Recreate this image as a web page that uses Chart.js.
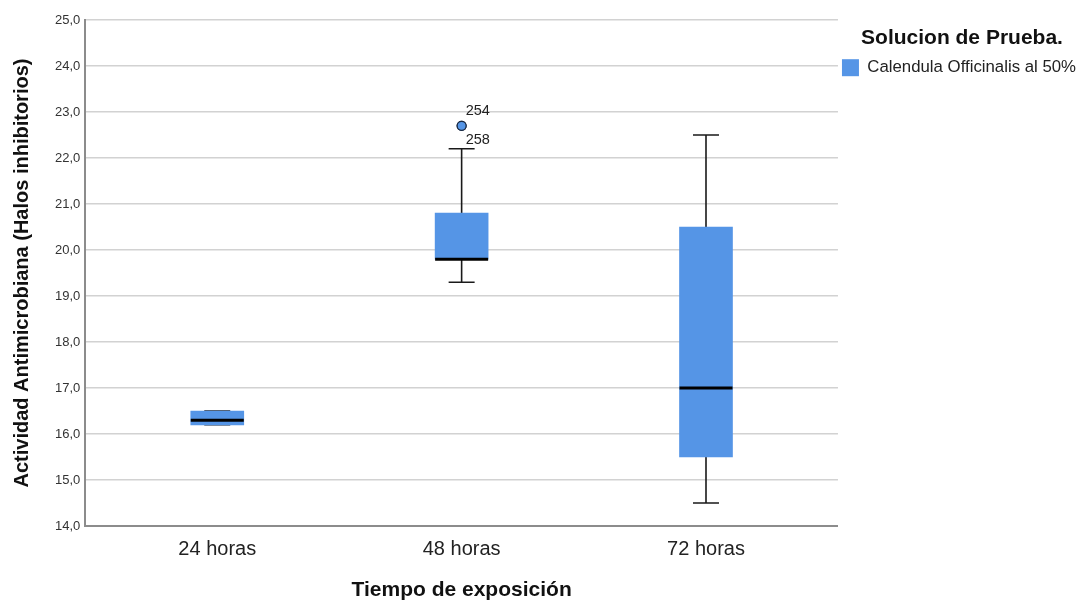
<!DOCTYPE html>
<html>
<head>
<meta charset="utf-8">
<script src="https://cdn.jsdelivr.net/npm/chart.js@4"></script>
<style>
  html, body { margin: 0; padding: 0; background: #fff; }
  #wrap { width: 1078px; height: 601px; }
</style>
</head>
<body>
<div id="wrap"><canvas id="boxChart"></canvas></div>
<script>
/* ====== data ===== */
const groups = ['24 horas', '48 horas', '72 horas'];
const whiskerLow = [16.2, 19.3, 14.5];
const q1 = [16.2, 19.8, 15.5];
const median = [16.3, 19.8, 17.0];
const q3 = [16.5, 20.8, 20.5];
const whiskerHigh = [16.5, 22.2, 22.5];
const outlierGroup = [1, 1];
const outlierValue = [22.7, 22.7];
const outlierCase = ['254', '258'];

const boxColor = '#5595e6';
const fontFamily = '"Liberation Sans", Arial, sans-serif';

/* ====== whiskers, medians, case labels ===== */
const boxPlotPlugin = {
    id: 'boxPlot',
    beforeDatasetsDraw(chart) {
        const {ctx, scales: {x, y}} = chart;
        ctx.save();
        ctx.strokeStyle = '#1a1a1a';
        ctx.lineWidth = 1.6;
        groups.forEach((g, i) => {
            const cx = x.getPixelForValue(i);
            const cap = 13;
            ctx.beginPath();
            ctx.moveTo(cx, y.getPixelForValue(q3[i]));
            ctx.lineTo(cx, y.getPixelForValue(whiskerHigh[i]));
            ctx.moveTo(cx, y.getPixelForValue(q1[i]));
            ctx.lineTo(cx, y.getPixelForValue(whiskerLow[i]));
            ctx.moveTo(cx - cap, y.getPixelForValue(whiskerHigh[i]));
            ctx.lineTo(cx + cap, y.getPixelForValue(whiskerHigh[i]));
            ctx.moveTo(cx - cap, y.getPixelForValue(whiskerLow[i]));
            ctx.lineTo(cx + cap, y.getPixelForValue(whiskerLow[i]));
            ctx.stroke();
        });
        ctx.restore();
    },
    afterDatasetsDraw(chart) {
        const {ctx, scales: {x, y}} = chart;
        ctx.save();
        ctx.strokeStyle = '#000';
        ctx.lineWidth = 3;
        groups.forEach((g, i) => {
            const cx = x.getPixelForValue(i);
            const my = y.getPixelForValue(median[i]);
            ctx.beginPath();
            ctx.moveTo(cx - 26.5, my);
            ctx.lineTo(cx + 26.5, my);
            ctx.stroke();
        });
        // case numbers next to the outlier
        ctx.fillStyle = '#222';
        ctx.font = '14.5px ' + fontFamily;
        ctx.textAlign = 'left';
        ctx.textBaseline = 'middle';
        outlierCase.forEach((c, k) => {
            const px = x.getPixelForValue(outlierGroup[k]) + 4;
            const py = y.getPixelForValue(outlierValue[k]) + (k === 0 ? -15 : 14);
            ctx.fillText(c, px, py);
        });
        ctx.restore();
    }
};

const boxData = {
    datasets: [
        {
            type: 'bar',
            label: 'Calendula Officinalis al 50%',
            data: groups.map((g, i) => ({x: i, y: [q1[i], q3[i]]})),
            backgroundColor: boxColor,
            borderWidth: 0,
            barThickness: 53,
            order: 2,
        },
        {
            type: 'scatter',
            label: 'outliers',
            data: outlierValue.map((v, k) => ({x: outlierGroup[k], y: v})),
            backgroundColor: boxColor,
            borderColor: '#1a2a44',
            borderWidth: 1.2,
            pointRadius: 4.5,
            order: 1,
        }
    ]
};

const boxConfig = {
    type: 'bar',
    data: boxData,
    options: {
        responsive: true,
        maintainAspectRatio: false,
        animation: false,
        layout: {
            padding: {top: 20, left: 10, right: -8, bottom: 0}
        },
        scales: {
            x: {
                type: 'linear',
                offset: false,
                min: -0.54,
                max: 2.54,
                afterBuildTicks: (scale) => {
                    scale.ticks = groups.map((g, i) => ({value: i}));
                },
                ticks: {
                    callback: (v) => groups[v],
                    color: '#222',
                    font: {family: fontFamily, size: 20},
                    padding: 3,
                },
                grid: {display: false},
                border: {display: true, color: '#8c8c8c', width: 2},
                title: {
                    display: true,
                    text: 'Tiempo de exposición',
                    color: '#111',
                    font: {family: fontFamily, size: 21, weight: 'bold', lineHeight: 1.0},
                    padding: {top: 16, bottom: 0},
                }
            },
            y: {
                min: 14,
                max: 25,
                ticks: {
                    stepSize: 1,
                    callback: (v) => v.toFixed(1).replace('.', ','),
                    color: '#333',
                    font: {family: fontFamily, size: 13},
                    padding: 5,
                },
                grid: {
                    color: (c) => c.tick && c.tick.value === 14 ? 'rgba(0,0,0,0)' : '#d2d2d2',
                    lineWidth: 1.5,
                    drawTicks: false,
                },
                border: {display: true, color: '#8c8c8c', width: 2},
                title: {
                    display: true,
                    text: 'Actividad Antimicrobiana (Halos inhibitorios)',
                    color: '#111',
                    font: {family: fontFamily, size: 20, weight: 'bold'},
                    padding: {top: 0, bottom: 16},
                }
            }
        },
        plugins: {
            tooltip: {enabled: false},
            legend: {
                display: true,
                position: 'right',
                align: 'start',
                labels: {
                    filter: (item) => item.datasetIndex === 0,
                    boxWidth: 17,
                    boxHeight: 17,
                    color: '#222',
                    font: {family: fontFamily, size: 16.8},
                    padding: 4,
                },
                title: {
                    display: true,
                    text: 'Solucion de Prueba.',
                    color: '#111',
                    font: {family: fontFamily, size: 21, weight: 'bold'},
                    padding: {top: 8, bottom: 2},
                }
            }
        }
    },
    plugins: [boxPlotPlugin]
};

const boxChart = new Chart(
    document.querySelector('#boxChart'),
    boxConfig
);
</script>
</body>
</html>
